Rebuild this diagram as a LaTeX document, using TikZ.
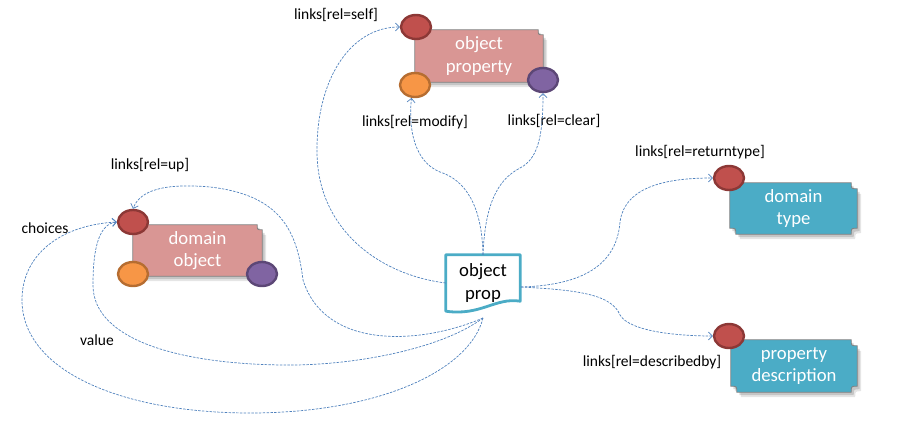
\documentclass[tikz,border=0pt]{standalone}
\usepackage{fontspec}
\setmainfont{Carlito}
\usetikzlibrary{shapes.geometric,arrows.meta,calc,backgrounds}
\definecolor{linkblue}{RGB}{79,129,189}
\definecolor{pinkfill}{RGB}{217,150,148}
\definecolor{tealfill}{RGB}{75,172,198}
\definecolor{boxgray}{RGB}{128,128,128}
\definecolor{redfill}{RGB}{192,80,77}
\definecolor{redline}{RGB}{140,56,54}
\definecolor{orfill}{RGB}{247,150,70}
\definecolor{orline}{RGB}{182,109,49}
\definecolor{pufill}{RGB}{128,100,162}
\definecolor{puline}{RGB}{92,71,118}
\tikzset{
  link/.style={draw=linkblue, line width=0.7pt, dash pattern=on 2.5pt off 1.3pt,
    -{Straight Barb[length=4pt,width=8pt]}},
  lbl/.style={font=\fontsize{15.5}{18}\selectfont, inner sep=0pt, text=black},
  boxtxt/.style={font=\fontsize{18.7}{22.5}\selectfont, text=white, align=center,
    inner sep=0pt, minimum width=128pt, minimum height=52pt},
  dot/.style={ellipse, minimum width=30pt, minimum height=24pt, inner sep=0pt, line width=2.4pt},
  reddot/.style={dot, fill=redfill, draw=redline},
  ordot/.style={dot, fill=orfill, draw=orline},
  pudot/.style={dot, fill=pufill, draw=puline},
  shadowa/.style={fill=black, opacity=0.10, transform canvas={xshift=4pt, yshift=-5pt}},
  shadowb/.style={fill=black, opacity=0.14, transform canvas={xshift=2.5pt, yshift=-3pt}},
  boxline/.style={draw=boxgray, line width=0.8pt}
}
% box with concave notches at four corners
\newcommand\fourpath[2]{($(#1.north west)+(#2,0)$) -- ($(#1.north east)+(-#2,0)$) .. controls ($(#1.north east)+(-#2,#2)$) .. ($(#1.north east)+(0,#2)$) -- ($(#1.south east)+(0,-#2)$) .. controls ($(#1.south east)+(-#2,-#2)$) .. ($(#1.south east)+(-#2,0)$) -- ($(#1.south west)+(#2,0)$) .. controls ($(#1.south west)+(#2,-#2)$) .. ($(#1.south west)+(0,-#2)$) -- ($(#1.north west)+(0,#2)$) .. controls ($(#1.north west)+(#2,#2)$) .. ($(#1.north west)+(#2,0)$) -- cycle}
% box with a concave notch at the top right corner
\newcommand\onepath[2]{(#1.north west) -- ($(#1.north east)+(-#2,0)$) .. controls ($(#1.north east)+(-#2,#2)$) .. ($(#1.north east)+(0,#2)$) -- (#1.south east) -- (#1.south west) -- cycle}
\begin{document}
\begin{tikzpicture}[x=1pt,y=-1pt]
\useasboundingbox (0,0) rectangle (902,425);

% text nodes of the boxes
\node[boxtxt] (opbox) at (479,56) {object\\property};
\node[boxtxt, minimum width=129pt, minimum height=51pt] (dobox) at (197.5,250.5) {domain\\object};
\node[boxtxt, minimum width=127pt, minimum height=51pt] (dtbox) at (793.5,208.5) {domain\\type};
\node[boxtxt, minimum width=126pt, minimum height=52pt] (pdbox) at (794,366) {property\\description};
\node[boxtxt, text=black, minimum width=74pt, minimum height=56pt] (op) at (483,283) {object\\prop};

\begin{scope}[on background layer]
  \fill[shadowa] \onepath{opbox}{5};
  \fill[shadowb] \onepath{opbox}{5};
  \path[fill=pinkfill, boxline] \onepath{opbox}{5};
  \fill[shadowa] \onepath{dobox}{5};
  \fill[shadowb] \onepath{dobox}{5};
  \path[fill=pinkfill, boxline] \onepath{dobox}{5};
  \fill[shadowa] \fourpath{dtbox}{6};
  \fill[shadowb] \fourpath{dtbox}{6};
  \path[fill=tealfill, boxline] \fourpath{dtbox}{6};
  \fill[shadowa] \fourpath{pdbox}{6};
  \fill[shadowb] \fourpath{pdbox}{6};
  \path[fill=tealfill, boxline] \fourpath{pdbox}{6};
  \path[draw=tealfill, line width=2.8pt, fill=white, line join=round]
    (op.north west) -- (op.north east) -- ($(op.south east)+(0,-10)$)
    .. controls ($(op.south east)+(-25,-14)$) and ($(op.south west)+(35,5)$) .. (op.south west) -- cycle;
\end{scope}

% ports
\node[reddot] (opself) at (416,27) {};
\node[ordot]  (opmod)  at (415,85) {};
\node[pudot]  (opclr)  at (543,80) {};
\node[reddot] (dored)  at (133,222) {};
\node[ordot]  (door)   at (133,274) {};
\node[pudot]  (dopu)   at (262,274) {};
\node[reddot] (dtred)  at (729,178) {};
\node[reddot] (pdred)  at (729,336) {};

% connector end points on object prop
\coordinate (opr) at (521,287);
\coordinate (opb) at (483,318);

% labels
\node[lbl] (lself) at (336,15) {links[rel=self]};
\node[lbl] (lmod)  at (415,122) {links[rel=modify]};
\node[lbl] (lclr)  at (554,121) {links[rel=clear]};
\node[lbl] (lup)   at (150,165) {links[rel=up]};
\node[lbl] (lch)   at (45,228) {choices};
\node[lbl] (lval)  at (97,340) {value};
\node[lbl] (lrt)   at (700,152) {links[rel=returntype]};
\node[lbl] (ldb)   at (652,362) {links[rel=describedby]};

% connectors
\draw[link] (op.west) .. controls (380,275) and (318,230) .. (317,153)
  .. controls (316,80) and (350,27) .. (opself.west);
\draw[link] (op.north) .. controls (482,205) and (465,180) .. (440,172)
  .. controls (415,162) and (408,130) .. (opmod.255);
\draw[link] (op.north) .. controls (485,205) and (497,180) .. (520,168)
  .. controls (540,158) and (543,130) .. (opclr.south);
\draw[link] (opr) .. controls (590,285) and (617,260) .. (620,222)
  .. controls (625,185) and (670,178) .. (dtred.west);
\draw[link] (opr) .. controls (580,290) and (612,295) .. (620,315)
  .. controls (630,332) and (680,336) .. (pdred.west);
\draw[link] (opb) .. controls (420,345) and (325,350) .. (303,280)
  .. controls (297,230) and (280,195) .. (210,187)
  .. controls (165,183) and (140,190) .. (dored.north);
\draw[link] (opb) .. controls (440,350) and (350,366) .. (283,365)
  .. controls (180,364) and (93,340) .. (93,285)
  .. controls (93,245) and (100,224) .. (dored.west);
\draw[link] (opb) .. controls (470,370) and (380,413) .. (250,413)
  .. controls (120,413) and (22,370) .. (22,300)
  .. controls (22,255) and (60,225) .. (dored.west);
\end{tikzpicture}
\end{document}
